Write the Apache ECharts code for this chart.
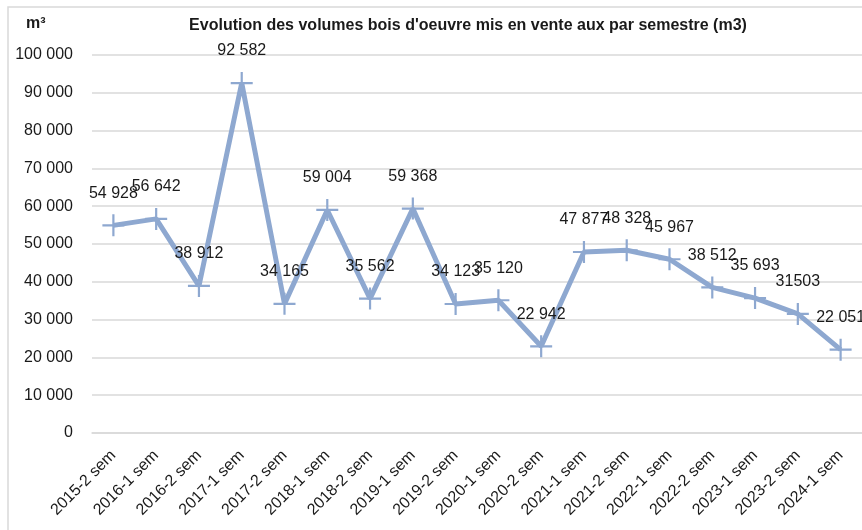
<!DOCTYPE html>
<html>
<head>
<meta charset="utf-8">
<script src="https://cdn.jsdelivr.net/npm/echarts@6/dist/echarts.min.js"></script>
<style>html,body{margin:0;padding:0;background:#fff}#c{width:862px;height:530px}</style>
</head>
<body>
<div id="c"></div>
<script>
var categories = ['2015-2 sem','2016-1 sem','2016-2 sem','2017-1 sem','2017-2 sem','2018-1 sem','2018-2 sem','2019-1 sem','2019-2 sem','2020-1 sem','2020-2 sem','2021-1 sem','2021-2 sem','2022-1 sem','2022-2 sem','2023-1 sem','2023-2 sem','2024-1 sem'];
var volumes = [54928,56642,38912,92582,34165,59004,35562,59368,34123,35120,22942,47877,48328,45967,38512,35693,31503,22051];
var valueLabels = ['54 928','56 642','38 912','92 582','34 165','59 004','35 562','59 368','34 123','35 120','22 942','47 877','48 328','45 967','38 512','35 693','31503','22 051'];
var titleText = "Evolution des volumes bois d'oeuvre mis en vente aux par semestre (m3)";
var unitText = 'm³';

var font = 'Liberation Sans, Arial, sans-serif';
var chart = echarts.init(document.getElementById('c'), null, {renderer: 'canvas'});
chart.setOption({
  animation: false,
  backgroundColor: '#fff',
  title: {
    text: titleText,
    left: 463, top: 13, textAlign: 'center',
    textStyle: {fontFamily: font, fontSize: 16, fontWeight: 'bold', color: '#1a1a1a'}
  },
  graphic: [
    {type: 'rect', shape: {x: 8, y: 7, width: 900, height: 600}, style: {fill: 'none', stroke: '#d9d9d9', lineWidth: 1.5}, silent: true, z: -1},
    {type: 'text', left: 26, top: 16, style: {text: unitText, font: 'bold 16px ' + font, fill: '#1a1a1a'}}
  ],
  grid: {left: 92, top: 55, width: 772, height: 378, containLabel: false},
  xAxis: {
    type: 'category',
    data: categories,
    boundaryGap: true,
    axisLine: {show: true, lineStyle: {color: '#d9d9d9', width: 1.5}},
    axisTick: {show: false},
    axisLabel: {rotate: 45, margin: 20, fontFamily: font, fontSize: 16, color: '#1a1a1a', interval: 0}
  },
  yAxis: {
    type: 'value',
    min: 0, max: 100000, interval: 10000,
    axisLine: {show: false},
    axisTick: {show: false},
    splitLine: {lineStyle: {color: '#d9d9d9', width: 1.5}},
    axisLabel: {
      margin: 19, fontFamily: font, fontSize: 16, color: '#1a1a1a',
      formatter: function (v) { return v === 0 ? '0' : String(v).replace(/\B(?=(\d{3})+(?!\d))/g, ' '); }
    }
  },
  series: [{
    type: 'line',
    data: volumes,
    lineStyle: {color: '#8EA8D0', width: 5},
    itemStyle: {color: '#8EA8D0'},
    symbol: 'path://M0,9L20,9L20,11L0,11Z M9,0L11,0L11,20L9,20Z',
    symbolSize: 22,
    label: {
      show: true, position: 'top', distance: 13,
      fontFamily: font, fontSize: 16, color: '#1a1a1a',
      formatter: function (p) { return valueLabels[p.dataIndex]; }
    },
    labelLayout: {hideOverlap: false}
  }]
});
</script>
</body>
</html>
